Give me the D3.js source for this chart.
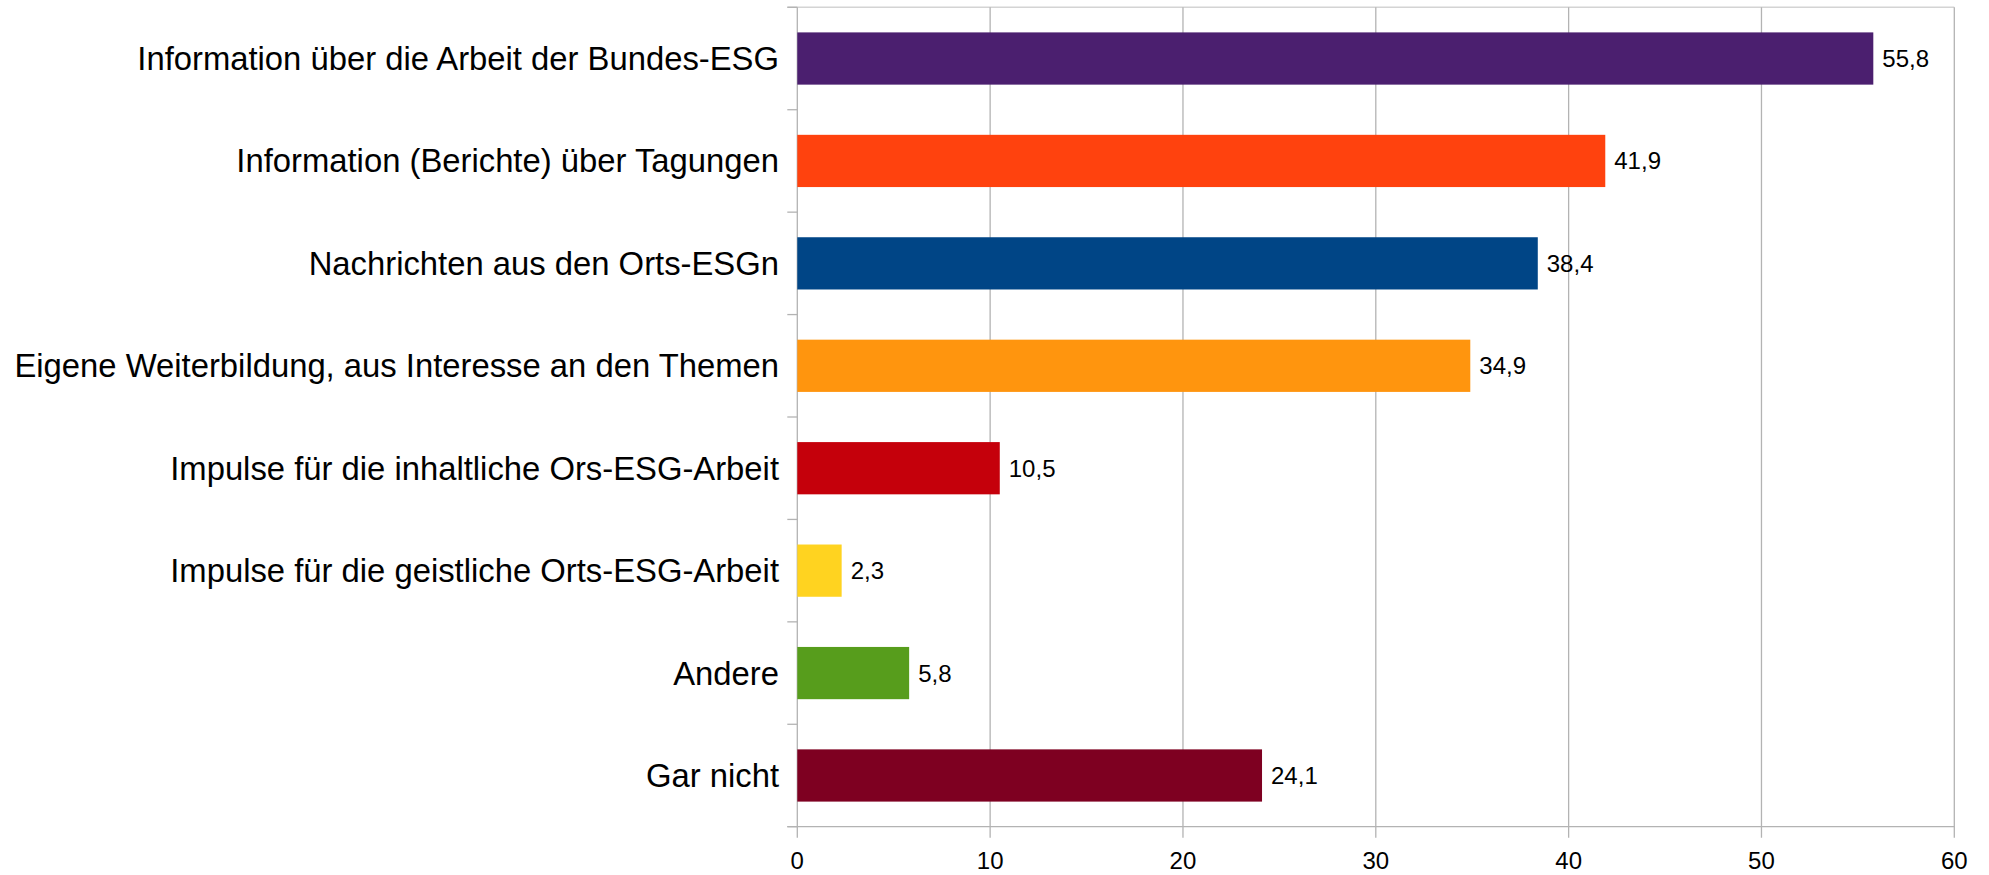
<!DOCTYPE html>
<html><head><meta charset="utf-8">
<script src="https://cdn.jsdelivr.net/npm/d3@7"></script>
<style>body{margin:0;background:#fff}svg{display:block}</style>
</head><body>
<svg id="c" width="1989" height="875"></svg>
<script>
const categories = [
  "Information über die Arbeit der Bundes-ESG",
  "Information (Berichte) über Tagungen",
  "Nachrichten aus den Orts-ESGn",
  "Eigene Weiterbildung, aus Interesse an den Themen",
  "Impulse für die inhaltliche Ors-ESG-Arbeit",
  "Impulse für die geistliche Orts-ESG-Arbeit",
  "Andere",
  "Gar nicht"
];
const values = [55.8, 41.9, 38.4, 34.9, 10.5, 2.3, 5.8, 24.1];
const colors = ["#4b1f6f","#ff420e","#004586","#ff950e","#c5000b","#ffd320","#579d1c","#7e0021"];
const xTicks = [0, 10, 20, 30, 40, 50, 60];

const svg = d3.select("#c");
const L = 797.3, R = 1954.3, T = 7.3, B = 826.7;
const x = d3.scaleLinear().domain([0, 60]).range([L, R]);
const y = d3.scaleBand().domain(categories).range([T, B]).paddingInner(0.49).paddingOuter(0.245);
const band = d3.scaleBand().domain(categories).range([T, B]);
const grid = "#b3b3b3";
const font = "'Liberation Sans', Arial, sans-serif";

// top frame line
svg.append("line").attr("x1", L - 10).attr("x2", R).attr("y1", T).attr("y2", T)
  .attr("stroke", "#d4d4d4").attr("stroke-width", 1.6);

// vertical gridlines
svg.append("g").selectAll("line").data(xTicks).join("line")
  .attr("x1", d => x(d)).attr("x2", d => x(d))
  .attr("y1", T).attr("y2", B + 11)
  .attr("stroke", grid).attr("stroke-width", 1.3);

// category ticks
const catTicks = d3.range(categories.length + 1).map(i => T + i * band.step());
svg.append("g").selectAll("line").data(catTicks).join("line")
  .attr("x1", L - 10).attr("x2", L).attr("y1", d => d).attr("y2", d => d)
  .attr("stroke", grid).attr("stroke-width", 1.3);

// bottom axis line
svg.append("line").attr("x1", L - 10).attr("x2", R).attr("y1", B).attr("y2", B)
  .attr("stroke", grid).attr("stroke-width", 1.3);

// bars
svg.append("g").selectAll("rect").data(values).join("rect")
  .attr("x", x(0))
  .attr("y", (d, i) => y(categories[i]))
  .attr("width", d => x(d) - x(0))
  .attr("height", y.bandwidth())
  .attr("fill", (d, i) => colors[i]);

// value labels
svg.append("g").selectAll("text").data(values).join("text")
  .attr("x", d => x(d) + 9)
  .attr("y", (d, i) => band(categories[i]) + band.bandwidth() / 2 + 8.5)
  .attr("font-family", font).attr("font-size", 24).attr("fill", "#000")
  .text(d => d3.format(".1f")(d).replace(".", ","));

// category labels
svg.append("g").selectAll("text").data(categories).join("text")
  .attr("x", 779)
  .attr("y", d => band(d) + band.bandwidth() / 2 + 11.5)
  .attr("text-anchor", "end")
  .attr("font-family", font).attr("font-size", 32.8).attr("fill", "#000")
  .text(d => d);

// x tick labels
svg.append("g").selectAll("text").data(xTicks).join("text")
  .attr("x", d => x(d)).attr("y", 869)
  .attr("text-anchor", "middle")
  .attr("font-family", font).attr("font-size", 24).attr("fill", "#000")
  .text(d => d);
</script>
</body></html>
